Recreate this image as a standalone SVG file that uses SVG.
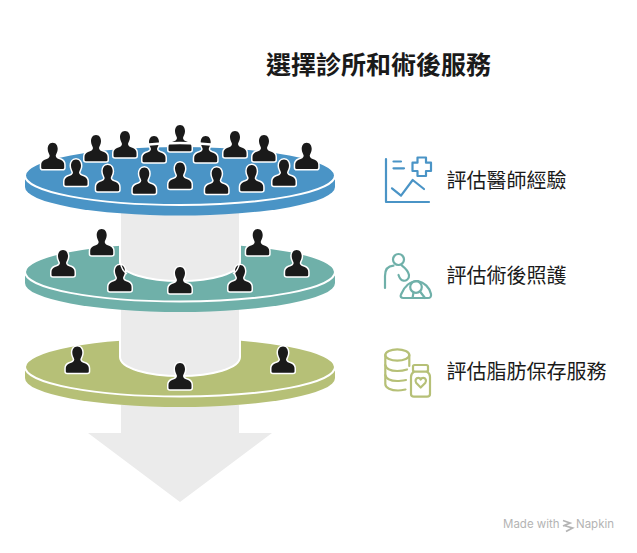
<svg xmlns="http://www.w3.org/2000/svg" width="637" height="553" viewBox="0 0 637 553">
<style>
.t{font-family:"Noto Sans CJK TC","Noto Sans CJK SC",sans-serif;fill:#1a1a1a}
.lab{font-size:20px;font-weight:400}
.g{fill:#ebebeb}
.cw{fill:#ebebeb;stroke:#fff;stroke-width:4;paint-order:stroke}
.face{stroke:#fff;stroke-width:2}
.wl{fill:none;stroke:#fff;stroke-width:2.500}
.wt{fill:none;stroke:#fff;stroke-width:1.500}
.pp{fill:#1a1a1a;stroke:#fff;stroke-width:3;paint-order:stroke;stroke-linejoin:round}
.ic{fill:none;stroke-width:2.200;stroke-linecap:round;stroke-linejoin:round}
.blue{fill:#4a94c6}.teal{fill:#6fb0a9}.olive{fill:#b6c077}
.sb{stroke:#4a94c6}.st{stroke:#6fb0a9}.so{stroke:#b6c077}
</style>
<defs>
<path id="p" d="M0 0C3.400 0 5 3 5 6.200C5 9.200 3.400 11 3 13C3 15 5 16 8 17C10.600 18 11.500 20 11.500 22V25Q11.500 26.300 10 26.300H-10Q-11.500 26.300-11.500 25V22C-11.500 20-10.600 18-8 17C-5 16-3 15-3 13C-3.400 11-5 9.200-5 6.200C-5 3-3.400 0 0 0Z"/>
</defs>
<text class="t" x="266" y="74" font-size="25" font-weight="700">選擇診所和術後服務</text>

<g id="connectors">
<path class="g" d="M121 405H239V433H272L180 502L88 433H121Z"/>
</g>

<g id="disc3">
<path class="olive" d="M25 367V378A155 29 0 0 0 335 378V367Z"/>
<ellipse class="olive face" cx="180" cy="367" rx="155" ry="29.500"/>
<use href="#p" class="pp" x="77.300" y="346.500"/>
<use href="#p" class="pp" x="283" y="346.500"/>
</g>
<g id="column2"><path class="cw" d="M121 306V357A59 18 0 0 0 239 357V306Z"/></g>
<g id="person3c"><use href="#p" class="pp" x="180" y="363"/></g>

<g id="disc2">
<path class="teal" d="M25 272V283A155 29 0 0 0 335 283V272Z"/>
<ellipse class="teal face" cx="180" cy="272" rx="155" ry="29.500"/>
</g>
<g id="column1"><path class="cw" d="M121 210V262A59 18 0 0 0 239 262V210Z"/></g>
<g id="persons2">
<use href="#p" class="pp" x="63" y="250"/>
<use href="#p" class="pp" x="101.700" y="229"/>
<use href="#p" class="pp" x="120" y="265"/>
<use href="#p" class="pp" x="180" y="267"/>
<use href="#p" class="pp" x="240" y="265"/>
<use href="#p" class="pp" x="257.700" y="229"/>
<use href="#p" class="pp" x="296.700" y="250"/>
<path class="wt" d="M120.500 263Q121.500 270 127 274M239.500 263Q238.500 270 233 274"/>
</g>

<g id="disc1">
<path class="blue" d="M25 176V187A155 28.500 0 0 0 335 187V176Z"/>
<ellipse class="blue face" cx="180" cy="175.500" rx="155" ry="29.500"/>
<use href="#p" class="pp" x="52.700" y="142.700"/>
<use href="#p" class="pp" x="96" y="135"/>
<use href="#p" class="pp" x="125" y="131"/>
<use href="#p" class="pp" x="154" y="136"/>
<use href="#p" class="pp" x="180" y="125"/>
<use href="#p" class="pp" x="205.700" y="136"/>
<use href="#p" class="pp" x="235" y="131"/>
<use href="#p" class="pp" x="264" y="135"/>
<use href="#p" class="pp" x="306.700" y="142.700"/>
<path class="wl" d="M143 145Q180 141 217 145"/>
<use href="#p" class="pp" x="76" y="159.500"/>
<use href="#p" class="pp" x="107.700" y="165"/>
<use href="#p" class="pp" x="144.300" y="167.500"/>
<use href="#p" class="pp" x="180" y="162.500"/>
<use href="#p" class="pp" x="216.700" y="167.500"/>
<use href="#p" class="pp" x="251.700" y="165"/>
<use href="#p" class="pp" x="284" y="159.500"/>
</g>

<g id="item1">
<g class="ic sb">
<path d="M386 159V202H429"/>
<path d="M393.500 161.500H401M393.500 168.300H404"/>
<path d="M417.500 157.500H426V162.700H431V171H426V176H417.500V171H412.500V162.700H417.500Z"/>
<path d="M392 188.300L401 195.700L412.700 180L424 189"/>
</g>
<text class="t lab" x="446.500" y="187.500">評估醫師經驗</text>
</g>
<g id="item2">
<g class="ic st">
<circle cx="398.500" cy="259.500" r="5.500"/>
<path d="M385 288V276C385 270 388 266 393.500 265.700M402 265.700C405 268 408 271 409 275C409.500 279 406 281 403.500 280.700C401 280.500 399.500 278 398.500 275"/>
<path d="M401 294.500C404 287 410 281 418 281C424 282 430 288 431 294C431.500 297 430 298 428 298H403.500C401 298 400 296.500 401 294.500Z"/>
<circle cx="416" cy="287" r="5.800"/>
<path d="M413.500 292.500L412.500 298M420 291.500L425 298"/>
</g>
<text class="t lab" x="446.500" y="283">評估術後照護</text>
</g>
<g id="item3">
<g class="ic so">
<ellipse cx="397.300" cy="355" rx="12" ry="5.700"/>
<path d="M385.300 355V384C385.300 388 391 390.500 398 390.500C400.500 390.500 403 390 405.500 389.500"/>
<path d="M409.300 355V366"/>
<path d="M385.300 365C386 369 391 371 397.300 371C401 371 404 370.500 407 369.500"/>
<path d="M385.300 375C386 379 391 381 397.300 381C400 381 403 380.500 406 380"/>
<rect x="413" y="365" width="15" height="6.700" rx="1.500"/>
<path d="M414 371.700C412 373 411 374.500 411 377V394C411 395.700 412 396.700 414 396.700H427C429 396.700 430 395.700 430 394V377C430 374.500 429 373 427 371.700"/>
<path d="M420.700 387.500L416.300 383C414.500 380.500 416 377.800 418.300 377.800C419.500 377.800 420.300 378.500 420.700 379.500C421.100 378.500 422 377.800 423.200 377.800C425.500 377.800 427 380.500 425.200 383Z"/>
</g>
<text class="t lab" x="446.500" y="379">評估脂肪保存服務</text>
</g>

<g id="credit">
<text x="503" y="528" font-family="Inter,'Liberation Sans',sans-serif" font-size="11.500" fill="#b4b4b4">Made with</text>
<path d="M563 520.500L570 523L563 526M564 525.500L572.500 528L566 531.500" fill="none" stroke="#b4b4b4" stroke-width="1.800"/>
<text x="576" y="528" font-family="Inter,'Liberation Sans',sans-serif" font-size="11.500" fill="#b4b4b4">Napkin</text>
</g>
</svg>
